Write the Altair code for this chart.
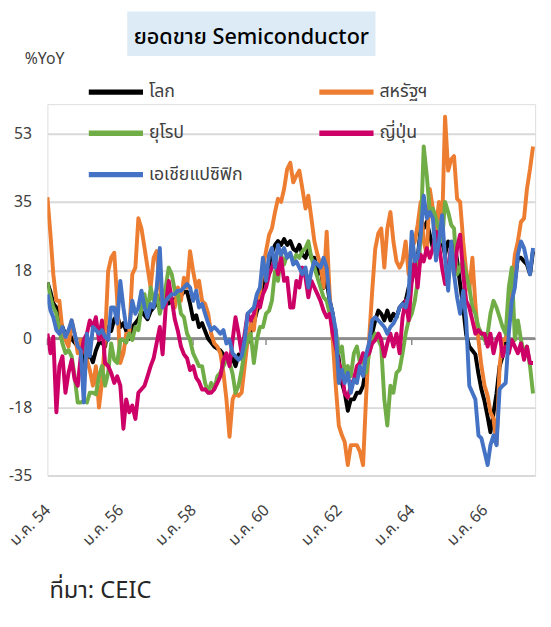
import altair as alt
import pandas as pd

# ---------------- data ----------------
months = pd.date_range("2011-01-01", periods=161, freq="MS").strftime("%Y-%m-%d").tolist()

series_names = ["โลก", "สหรัฐฯ", "ยุโรป", "ญี่ปุ่น", "เอเชียแปซิฟิก"]
series_colors = ["#000000", "#ED7D31", "#70AD47", "#CC0066", "#4472C4"]
# legend is filled column by column: left column, then right column
legend_order = ["โลก", "ยุโรป", "เอเชียแปซิฟิก", "สหรัฐฯ", "ญี่ปุ่น"]

world = [
    14.4, 12, 9, 8, 5, 3, 1, 2, 0, -1,
    -2, -2, -6, -5, -4, -6, -3, -1, -1, -2,
    3, 2, 5, 6, 3, 4, 2, 0, 3, 4,
    5, 7, 6, 5, 7, 8, 9, 11, 10, 9,
    9, 10, 10, 11, 11, 12, 12, 9, 5, 6,
    3, 4, 2, 0, -1, -2, -2.5, -3, -4, -5,
    -6, -5, -7, -4, -5, -3, -1, 2, 4, 7,
    9, 14, 16, 19, 22, 24, 25, 24, 25.5, 24,
    25, 23, 22.4, 24, 21.5, 20.7, 23, 20.7, 20.7, 16.5,
    18, 13, 14.8, 9.7, 6.4, 0.5, -5.4, -11.3, -13.8, -18.4,
    -15.5, -15.5, -13.8, -13.8, -12, -7, -2, 1.3, 4.7, 7.2,
    6.4, 4.7, 7.2, 4.7, 6.4, 5.5, 8, 8.9, 9.7, 13.1,
    14.8, 19.8, 20.7, 28.2, 28.2, 29.9, 26.6, 23.2, 24.9, 27.4,
    24.9, 21.5, 24.9, 23.2, 24.9, 20, 14, 8, 1, -2,
    -3, -4, -9, -13, -16, -20, -23.9, -19, -14, -7,
    -4.5, -1.2, 4.7, 9.7, 14.8, 20.7, 20.7, 19.8, 19, 16.5, 22.4,
]

us = [
    36.2, 26.5, 16.5, 9.7, 9.7, 2, -0.3, -2, 4.7, 1.3,
    -3.7, -0.3, -2, -5.4, -8, -12, -7, -17.6, -11, 0,
    17.3, 20.7, 22, 9.7, -6.2, -3.7, 1.3, 1.3, 16.5, 18.2,
    30.8, 28.2, 23.2, 18.2, 13.1, 20.7, 22.4, 13.1, 8, 9.7,
    11.4, 9.7, 8, 13.1, 9.7, 15.6, 13.1, 22.4, 17.3, 13.1,
    14.8, 9.7, 8.9, 6.4, 1.3, -1.2, -2, -3.7, -8.7, -15.5,
    -25.1, -15.5, -13.8, -14.6, -13.8, -7, -0.3, 3.9, 2.2, 9.7,
    11.4, 18.2, 22.4, 26.6, 28.2, 32.4, 35.8, 35, 38.3, 43.4,
    45, 40, 41.7, 43, 38.3, 33.3, 36.6, 30.8, 24.9, 21.5,
    19, 13.1, 27.4, 11.4, -0.3, -12, -22.2, -24.7, -26.4, -32.3,
    -27.2, -27.2, -27.2, -28.9, -32.3, -15, 0, 12, 23, 27,
    28.2, 18.2, 28.2, 32.4, 24.9, 19.8, 18.2, 19.8, 24.9, 16.5,
    23.2, 24.9, 29.1, 35, 24.9, 21.5, 38.3, 33.3, 28.2, 35,
    28.2, 56.8, 43, 45.9, 46.7, 35.8, 35, 24.9, 17.3, 12.3,
    20.7, 8.9, -0.3, -7, -12, -14.6, -18.8, -20.5, -27, -7,
    -0.3, -0.3, 4.7, 13.1, 21.5, 24.9, 29.9, 30.8, 38.3, 43.4, 49.2,
]

europe = [
    14.4, 10.6, 8, 6.4, 2.2, -1.2, -3.7, -2.9, -4.5, -9.6,
    -16.3, -16.3, -15.9, -16.3, -13.8, -13.8, -14.2, -9.6, -7, -12,
    -8.7, -1.2, -5.4, -6.2, -0.3, -0.3, -1, 1.3, -0.3, 3,
    2.2, 8, 11.4, 6.4, 13.1, 9.7, 11.4, 6.4, 9.7, 13.1,
    18.2, 16.5, 12.3, 11.4, 6.4, 5.5, 1.3, -0.3, -3.7, -5.4,
    -7, -7, -11.3, -13.8, -11.3, -12.9, -9.6, -8.7, -7, -5.4,
    -6, -9, -13.8, -12, -8, -3, -0.3, 1.3, -6.2, -0.3,
    3, 3, 6.4, 7.2, 9.7, 17.3, 14.8, 21.5, 19, 21.5,
    21.5, 19.8, 21.5, 20.7, 22.4, 23.2, 24.9, 20.7, 18.2, 15.6,
    13.1, 10.6, 9.7, 6.4, 3.9, 2.2, -3.7, -2, -8.7, -7,
    -9.6, -3.7, -2, -6.2, -5.4, -8.7, -3.7, -0.3, 1.3, -0.3,
    -2, -15.5, -22.2, -12, -13.8, -8.7, -7.9, -3.7, 1.3, 4.7,
    6.4, 9.7, 14.8, 26.6, 49.2, 41.7, 32.4, 33.3, 30.8, 28.2,
    24.9, 35, 32.4, 29.1, 28.2, 16.5, 18.2, 19.8, 16.5, 13.1,
    8, 6.4, 3, 1.3, -0.3, 1.3, 6.4, 9.7, 8, 5.5,
    3, 1.3, 13.1, 18.2, -0.3, 4.7, -0.3, -3.7, -2, -7, -14,
]

japan = [
    1.3, -3.7, 0.5, -18.8, -7, -4.5, -13.8, -8.7, -5.4, -10.4,
    -12, -4.5, -0.3, 1.3, 4.7, 3, 5.5, -0.3, 4.7, -6.2,
    -7, -8.7, -11.3, -9.6, -12, -23, -15.5, -18.8, -17.1, -20.5,
    -13.8, -12.9, -12, -9.6, -7, -5, -1, 3, -4, 8,
    14.8, 10, 5, 2, -2, -4, -5, -8, -7, -10,
    -11, -13, -12.9, -13.8, -13.8, -12.9, -11.3, -9.6, -5.4, -3.7,
    -7, -0.3, 5.5, 1.3, -3.7, 1.3, 6.4, 4.7, 6.4, 9.7,
    8, 11.4, 13.1, 16.5, 18.2, 20.7, 16.5, 20.7, 14.8, 15.6,
    8, 8, 14.8, 13.1, 18.2, 15.6, 10.6, 14.8, 13.1, 11.4,
    9.7, 7.2, 5.5, 6.4, 1.3, -2, -6.2, -8.7, -14, -15,
    -12, -10.4, -7, -6.2, -3.7, -4.5, -3.7, -1.2, -0.3, 1.3,
    -0.3, -4.5, -1.2, 1.3, -2, 1.3, -3.7, 5.5, 9.7, 4.7,
    14.8, 19.8, 13.1, 21.5, 19.8, 23.2, 20.7, 23.2, 27.4, 24,
    18.2, 14, 18.2, 24, 16.5, 23.2, 26.6, 16.5, 9.7, 8,
    4.7, 1.3, 2.2, 1.3, 1.3, -2, 1.3, -3.7, -0.3, 1.3,
    -4.5, -2, -3.7, -0.3, -2, -3.7, -1.2, -5.4, -2, -6.2, -6.2,
]

asia_pacific = [
    11.4, 7.2, 5.5, 2.2, 1.3, 3, 0.5, 2.2, 4.7, 1.3,
    -2, -2.9, -16.3, 1.3, -4.5, 3, 2.2, 1.3, 2.2, 0.5,
    -0.3, 8, 8, 3.9, 14.8, 8, 3, 3, 9.7, 6.4,
    8, 12.3, 8, 5.5, 8.9, 8, 13.1, 23.2, 8, 9.7,
    10.6, 11.4, 11.4, 12.3, 12.3, 13.1, 14, 13.1, 9.7, 12.3,
    8, 8.9, 6.4, 3.9, 2.2, 3, 2.2, 1.3, 2.2, -1.2,
    -0.3, -3.7, -4.5, -5.4, -4.5, -0.3, 6.4, 7.2, 8, 11.4,
    13.1, 20.7, 14.8, 21.5, 23.2, 18.2, 24, 21.5, 23.2, 20.7,
    22, 19, 19.8, 18.2, 16.5, 18.2, 13.1, 17.3, 19.8, 19,
    18.2, 20.7, 18.2, 9.7, 6.4, 2.2, -11.3, -7.9, -11.3, -8.7,
    -13.8, -10.4, -11.3, -7, -9.6, -4, -1, 4.7, 5.5, 4.7,
    3.9, 3, 1.3, 3, 3.9, 5.5, 8, 8.9, 8, 11.4,
    27.4, 19.8, 20.7, 26.6, 36.6, 30.8, 32.4, 30.8, 20, 24.9,
    31.6, 20.7, 12.3, 24.9, 16.5, 10.6, 6.4, 12.3, 4.7, -12,
    -13.8, -15.5, -24.7, -25.5, -28.9, -32.3, -27.2, -24.7, -27.2, -12.9,
    -12, -11.3, 1.3, 9.7, 13.1, 21.5, 24.9, 23.2, 19.8, 16.5, 23.2,
]

y_ticks = [-35, -17.5, 0, 17.5, 35, 52.5]
y_tick_labels = ["-35", "-18", "0", "18", "35", "53"]
x_label_years = [2011, 2013, 2015, 2017, 2019, 2021, 2023]

title_text = "ยอดขาย Semiconductor"
unit_text = "%YoY"
source_text = "ที่มา: CEIC"

# ---------------- build ----------------
all_series = [world, us, europe, japan, asia_pacific]
rows = []
for name, vals in zip(series_names, all_series):
    for d, v in zip(months, vals):
        rows.append({"date": d, "series": name, "value": v})
df = pd.DataFrame(rows)

color_of = dict(zip(series_names, series_colors))
legend_colors = [color_of[n] for n in legend_order]

tick_df = pd.DataFrame({"date": [f"{y}-01-01" for y in x_label_years]})

FONT = "Noto Sans Thai, Noto Sans, Tahoma, sans-serif"

y_scale = alt.Scale(domain=[-35, 60], nice=False, zero=False)
x_scale = alt.Scale(type="utc", domain=["2011-01-01", "2024-05-22"], nice=False)

label_expr = ""
for v, lab in zip(y_ticks, y_tick_labels):
    label_expr += f"datum.value == {v} ? '{lab}' : "
label_expr += "''"

x_enc = alt.X(
    "date:T",
    scale=x_scale,
    axis=alt.Axis(
        values=[alt.DateTime(year=y, month=1, date=1, utc=True) for y in x_label_years],
        labelExpr="'ม.ค. ' + ((utcyear(datum.value) + 543) % 100)",
        labelAngle=315,
        labelAlign="right",
        labelBaseline="middle",
        labelPadding=32,
        labelFontSize=16,
        labelColor="#404040",
        labelFont=FONT,
        ticks=False,
        domain=False,
        grid=False,
        title=None,
    ),
)

y_enc = alt.Y(
    "value:Q",
    scale=y_scale,
    axis=alt.Axis(
        values=y_ticks,
        labelExpr=label_expr,
        grid=True,
        gridColor="#D9D9D9",
        gridWidth=2,
        domain=False,
        ticks=False,
        labelPadding=16,
        labelFontSize=16,
        labelColor="#404040",
        labelFont=FONT,
        title=None,
    ),
)

lines = alt.Chart(df).mark_line(strokeWidth=4, strokeJoin="round", clip=True).encode(
    x=x_enc,
    y=y_enc,
    color=alt.Color(
        "series:N",
        scale=alt.Scale(domain=legend_order, range=legend_colors),
        legend=alt.Legend(
            orient="none",
            legendX=39,
            legendY=-43,
            columns=2,
            title=None,
            symbolType="stroke",
            symbolSize=3025,
            symbolStrokeWidth=5.5,
            labelFontSize=18,
            labelFont=FONT,
            labelColor="#404040",
            labelOffset=3,
            columnPadding=66,
            rowPadding=-10,
        ),
    ),
)

zero_line = alt.Chart(tick_df).mark_rule(color="#8C8C8C", strokeWidth=2).encode(
    y=alt.datum(0, scale=y_scale),
)

tick_marks = alt.Chart(tick_df).mark_rule(color="#8C8C8C", strokeWidth=1.5).encode(
    x=alt.X("date:T", scale=x_scale),
    y=alt.datum(0),
    y2=alt.Y2Datum(-1.6),
)

base_txt = alt.Chart(pd.DataFrame({"k": [0]}))

title_box = base_txt.mark_rect(color="#DDEBF7").encode(
    x=alt.value(81), x2=alt.value(333), y=alt.value(-94), y2=alt.value(-49)
)
title = base_txt.mark_text(
    text=title_text, font=FONT, fontSize=22, fontWeight=500, color="#000000",
    align="center", baseline="middle",
).encode(x=alt.value(207), y=alt.value(-68))

unit = base_txt.mark_text(
    text=unit_text, font=FONT, fontSize=16, color="#404040", align="left", baseline="middle",
).encode(x=alt.value(-23), y=alt.value(-46))

source = base_txt.mark_text(
    text=source_text, font=FONT, fontSize=24, color="#262626", align="left", baseline="middle",
).encode(x=alt.value(2), y=alt.value(494))

chart = alt.layer(
    zero_line, tick_marks, lines, title_box, title, unit, source
).properties(
    width=495,
    height=377,
    autosize=alt.AutoSizeParams(type="none"),
    padding={"left": 40, "top": 93, "right": 8, "bottom": 145},
).configure_view(stroke=None).configure(font=FONT)

chart.save("out.html", embed_options={"renderer": "svg", "actions": False})
